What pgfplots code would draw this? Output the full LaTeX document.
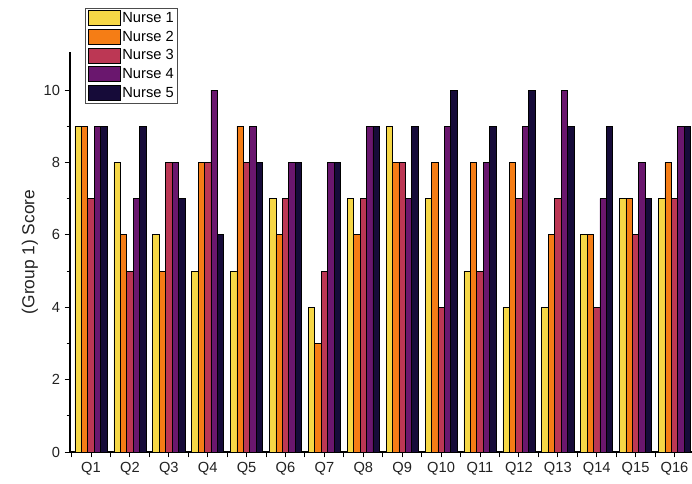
\documentclass[border=0pt]{standalone}
\usepackage{fontspec}
\setmainfont{Liberation Sans}
\usepackage{pgfplots}
\pgfplotsset{compat=1.18}
\usepackage{pgfplotstable}
\definecolor{nA}{HTML}{F6D746}
\definecolor{nB}{HTML}{F57D15}
\definecolor{nC}{HTML}{BC3754}
\definecolor{nD}{HTML}{6A176E}
\definecolor{nE}{HTML}{160B39}
\definecolor{txt}{HTML}{222222}
\pgfplotstableread{
q a b c d e
1 9 9 7 9 9
2 8 6 5 7 9
3 6 5 8 8 7
4 5 8 8 10 6
5 5 9 8 9 8
6 7 6 7 8 8
7 4 3 5 8 8
8 7 6 7 9 9
9 9 8 8 7 9
10 7 8 4 9 10
11 5 8 5 8 9
12 4 8 7 9 10
13 4 6 7 10 9
14 6 6 4 7 9
15 7 7 6 8 7
16 7 8 7 9 9
}\data
\begin{document}
\begin{tikzpicture}
\begin{axis}[
  at={(0pt,0pt)}, anchor=south west,
  scale only axis, width=466.5pt, height=300pt,
  xmin=0.46, xmax=16.45, ymin=0, ymax=11.05,
  axis x line*=bottom, axis y line*=left,
  axis line style={-, line width=0.8pt, black},
  ybar=0pt, bar width=0.165,
  xtick={1,...,16},
  xticklabels={Q1,Q2,Q3,Q4,Q5,Q6,Q7,Q8,Q9,Q10,Q11,Q12,Q13,Q14,Q15,Q16},
  extra x ticks={0.5,1.5,...,16.5}, extra x tick labels={},
  extra x tick style={grid=none},
  ytick={0,2,...,10}, minor y tick num=1,
  tick align=outside, major tick length=4pt, minor tick length=2.5pt,
  tick style={black, line width=0.7pt},
  /pgf/number format/assume math mode=true,
  tick label style={font=\fontsize{11}{13}\selectfont, text=txt},
  ylabel={(Group 1) Score},
  every axis y label/.style={at={(axis description cs:-0.0643,0.5)}, rotate=90, anchor=center, font=\fontsize{13}{15}\selectfont, text=txt},
  every axis plot/.append style={draw=black, line width=0.5pt},
  legend style={at={(axis description cs:0.024,1.11)}, anchor=north west,
    draw=black!70, line width=0.6pt, font=\fontsize{11}{13}\selectfont,
    row sep=2pt, inner xsep=2pt, inner ysep=1.5pt,
    nodes={inner sep=1pt, text height=8pt, text depth=2pt}},
  legend cell align=left,
  legend image code/.code={\draw[#1, line width=0.8pt] (0pt,-5.6pt) rectangle (24pt,5.6pt);},
]
\addplot[fill=nA] table[x=q,y=a]{\data};
\addplot[fill=nB] table[x=q,y=b]{\data};
\addplot[fill=nC] table[x=q,y=c]{\data};
\addplot[fill=nD] table[x=q,y=d]{\data};
\addplot[fill=nE] table[x=q,y=e]{\data};
\legend{Nurse 1,Nurse 2,Nurse 3,Nurse 4,Nurse 5}
\end{axis}
\pgfresetboundingbox
\useasboundingbox (-52.5pt,-23.25pt) rectangle (466.5pt,339pt);
\end{tikzpicture}
\end{document}
